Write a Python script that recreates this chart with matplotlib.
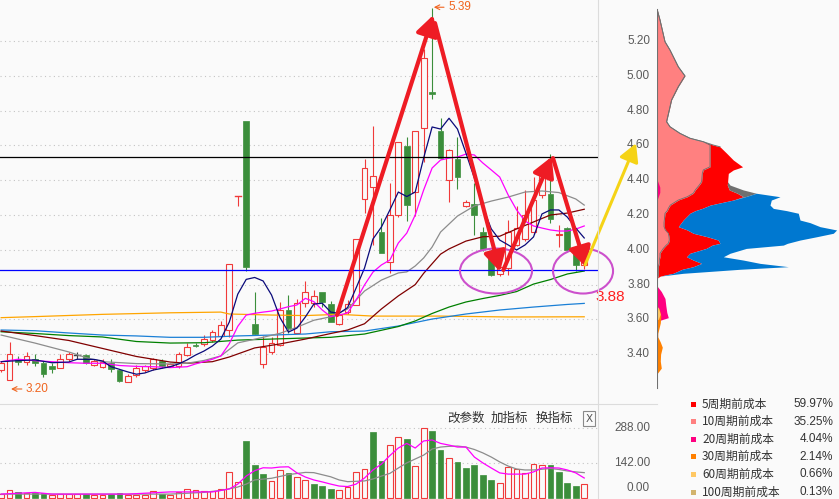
import matplotlib
matplotlib.use("Agg")
import numpy as np
import matplotlib.pyplot as plt
from matplotlib.patches import Rectangle, Ellipse
from matplotlib.lines import Line2D
from matplotlib.transforms import blended_transform_factory

# ---------------- data ----------------
opens  = [3.31, 3.25, 3.37, 3.355, 3.37, 3.35, 3.33, 3.32, 3.37, 3.395,
          3.395, 3.34, 3.325, 3.35, 3.31, 3.24, 3.28, 3.31, 3.32, 3.36,
          3.335, 3.33, 3.395, 3.455, 3.46, 3.48, 3.505, 3.54, 4.31, 4.74,
          3.574, 3.342, 3.41, 3.453, 3.654, 3.52, 3.693, 3.696, 3.76, 3.69,
          3.574, 3.64, 3.683, 4.29, 4.36, 4.104, 3.932, 4.20, 4.597, 4.334,
          4.698, 4.905, 4.685, 4.40, 4.52, 4.252, 4.263, 4.104, 3.995, 3.86,
          3.894, 4.028, 4.06, 4.104, 4.315, 4.321, 4.085, 4.124, 3.995, 3.913]
highs  = [3.36, 3.47, 3.39, 3.41, 3.40, 3.36, 3.35, 3.40, 3.415, 3.41,
          3.40, 3.37, 3.37, 3.37, 3.315, 3.285, 3.34, 3.34, 3.38, 3.375,
          3.35, 3.415, 3.465, 3.465, 3.51, 3.54, 3.59, 3.92, 4.31, 4.74,
          3.755, 3.505, 3.50, 3.70, 3.74, 3.72, 3.82, 3.77, 3.76, 3.705,
          3.63, 3.71, 4.06, 4.52, 4.71, 4.18, 4.386, 4.62, 4.647, 4.684,
          5.152, 5.39, 4.76, 4.58, 4.65, 4.285, 4.386, 4.13, 4.00, 3.92,
          4.17, 4.252, 4.344, 4.42, 4.487, 4.55, 4.14, 4.13, 4.00, 4.03]
lows   = [3.30, 3.25, 3.34, 3.34, 3.33, 3.27, 3.29, 3.32, 3.36, 3.37,
          3.345, 3.335, 3.32, 3.295, 3.24, 3.238, 3.27, 3.30, 3.31, 3.32,
          3.33, 3.32, 3.39, 3.44, 3.45, 3.47, 3.50, 3.50, 4.25, 3.88,
          3.51, 3.32, 3.40, 3.45, 3.52, 3.52, 3.67, 3.67, 3.67, 3.585,
          3.565, 3.63, 3.68, 4.21, 4.03, 3.98, 3.865, 4.19, 4.167, 4.194,
          4.506, 4.865, 4.52, 4.277, 4.348, 4.245, 4.085, 3.995, 3.85, 3.85,
          3.855, 4.02, 4.05, 4.09, 4.30, 4.156, 4.018, 3.99, 3.88, 3.89]
closes = [3.35, 3.40, 3.355, 3.39, 3.35, 3.285, 3.315, 3.37, 3.40, 3.395,
          3.35, 3.36, 3.357, 3.313, 3.245, 3.275, 3.32, 3.33, 3.37, 3.33,
          3.345, 3.40, 3.443, 3.448, 3.49, 3.525, 3.57, 3.92, 4.31, 3.90,
          3.516, 3.44, 3.463, 3.654, 3.549, 3.693, 3.76, 3.735, 3.70, 3.587,
          3.625, 3.69, 4.06, 4.468, 4.424, 3.983, 4.20, 4.62, 4.257, 4.684,
          5.10, 4.895, 4.526, 4.574, 4.417, 4.277, 4.20, 4.003, 3.855, 3.90,
          4.10, 4.124, 4.20, 4.286, 4.424, 4.175, 4.09, 4.00, 3.913, 4.028]
neutral_doji = [9]

volumes = [16, 33, 25, 19, 19, 20, 11, 16, 16, 15,
           16, 12, 12, 15, 20, 11, 14, 12, 30, 15,
           12, 25, 37, 32, 30, 29, 35, 105, 66, 234,
           135, 98, 70, 115, 101, 85, 74, 57, 49, 37,
           32, 45, 105, 118, 271, 152, 217, 249, 242, 131,
           286, 275, 197, 163, 148, 124, 135, 94, 74, 60,
           126, 118, 101, 138, 135, 135, 108, 63, 49, 57]
vol_colors = "rrgrggrrrrgrrggrrrrgrrrrrrrrrgggrrgrrgggrrrrggrrgrrggrgggggrrrrrrggggr"

# moving averages (candle index -> price)
ma5_x = [0, 2, 4, 6, 8, 9, 11, 12, 13, 15, 16, 17, 18, 20, 21, 22, 23, 24, 25, 26, 27, 28, 29,
         30, 31, 32, 33, 34, 35, 36, 37, 38, 39, 40, 41, 42, 43, 44, 45, 46, 47, 48, 49, 50,
         51, 52, 53, 54, 55, 56, 57, 58, 59, 60, 61, 62, 63, 64, 65, 66, 67, 68, 69]
ma5_y = [3.357, 3.363, 3.367, 3.351, 3.355, 3.371, 3.37, 3.361, 3.328, 3.298, 3.285, 3.292, 3.309,
         3.328, 3.344, 3.367, 3.395, 3.418, 3.447, 3.487, 3.585, 3.745, 3.83,
         3.841, 3.821, 3.74, 3.61, 3.527, 3.55, 3.614, 3.688, 3.693, 3.642, 3.635, 3.668, 3.78,
         3.895, 4.062, 4.131, 4.229, 4.332, 4.306, 4.332, 4.528,
         4.706, 4.694, 4.756, 4.694, 4.556, 4.413, 4.246, 4.12, 4.056, 4.028, 3.999, 4.028,
         4.074, 4.206, 4.229, 4.229, 4.188, 4.125, 4.068]
ma10_x = [0, 2, 4, 6, 8, 10, 12, 14, 16, 18, 20, 22, 23, 25, 26, 27, 28, 29, 30, 31, 32, 33, 34,
          35, 36, 37, 38, 39, 40, 41, 42, 43, 44, 45, 46, 47, 48, 49, 50, 51, 52, 53, 54, 55,
          56, 57, 58, 59, 60, 61, 62, 63, 64, 65, 66, 67, 68, 69]
ma10_y = [3.357, 3.371, 3.363, 3.357, 3.351, 3.348, 3.348, 3.335, 3.330, 3.328, 3.323, 3.328,
          3.344, 3.371, 3.39, 3.46, 3.56, 3.625, 3.635, 3.642, 3.648, 3.66, 3.673,
          3.683, 3.721, 3.702, 3.654, 3.616, 3.625, 3.637, 3.711, 3.798, 3.872, 3.913, 3.941,
          4.039, 4.096, 4.2, 4.344, 4.47, 4.516, 4.527, 4.533, 4.55,
          4.545, 4.499, 4.459, 4.418, 4.315, 4.229, 4.165, 4.137, 4.125, 4.114, 4.108, 4.108,
          4.119, 4.137]
ma20_x = [0, 4, 8, 10, 12, 16, 20, 22, 24, 26, 28, 30, 33, 35, 37, 39, 41, 43, 45, 47, 48, 49,
          50, 51, 52, 54, 56, 58, 60, 62, 64, 66, 68, 69]
ma20_y = [3.510, 3.464, 3.413, 3.381, 3.357, 3.346, 3.344, 3.348, 3.364, 3.39, 3.465, 3.486,
          3.52, 3.555, 3.595, 3.615, 3.66, 3.763, 3.826, 3.867, 3.873, 3.907,
          3.953, 4.016, 4.102, 4.194, 4.252, 4.28, 4.303, 4.332, 4.338, 4.329, 4.292, 4.257]
ma30_x = [0, 4, 8, 12, 16, 20, 22, 25, 27, 30, 33, 36, 39, 41, 43, 45, 47, 49, 50, 51, 52, 53,
          55, 57, 59, 61, 63, 65, 67, 69]
ma30_y = [3.533, 3.507, 3.479, 3.433, 3.387, 3.355, 3.348, 3.357, 3.384, 3.436, 3.459, 3.487,
          3.519, 3.539, 3.575, 3.66, 3.735, 3.80, 3.865, 3.92, 3.975, 4.005,
          4.05, 4.075, 4.078, 4.12, 4.16, 4.2, 4.211, 4.233]
ma60_x = [0, 4, 8, 12, 16, 20, 24, 28, 32, 36, 39, 43, 47, 49, 51, 53, 55, 57, 59, 61, 63, 65, 67, 69]
ma60_y = [3.529, 3.519, 3.507, 3.499, 3.473, 3.464, 3.466, 3.481, 3.487, 3.493, 3.497, 3.516,
          3.559, 3.591, 3.634, 3.671, 3.70, 3.72, 3.738, 3.76, 3.803, 3.829, 3.861, 3.878]
ma120_x = [0, 4, 8, 12, 16, 20, 24, 28, 32, 36, 39, 43, 47, 51, 55, 59, 63, 67, 69]
ma120_y = [3.539, 3.535, 3.522, 3.51, 3.505, 3.497, 3.497, 3.505, 3.51, 3.516, 3.529, 3.533,
           3.562, 3.602, 3.631, 3.654, 3.671, 3.686, 3.692]
ma250_x = [0, 4, 12, 20, 26, 27, 32, 36, 40, 44, 52, 60, 69]
ma250_y = [3.610, 3.616, 3.629, 3.638, 3.642, 3.631, 3.625, 3.622, 3.629, 3.619, 3.619, 3.614, 3.615]

# volume moving averages
vma5_x = [0, 4, 6, 10, 15, 20, 25, 27, 28, 29, 30, 31, 32, 33, 34, 35, 36, 37, 38, 39, 40, 41,
          42, 43, 44, 45, 46, 47, 48, 49, 50, 51, 52, 53, 54, 55, 56, 57, 58, 59, 60, 61, 62,
          63, 64, 65, 66, 67, 68, 69]
vma5_y = [16, 23, 16, 16, 16, 25, 25, 37, 57, 90, 112, 124, 123, 127, 128, 103, 86, 74, 66, 57,
          49, 47, 57, 82, 115, 139, 174, 205, 224, 205, 234, 238, 224, 217, 209, 209, 168, 144,
          123, 103, 98, 98, 98, 107, 123, 124, 123, 115, 103, 82]
vma10_x = [0, 10, 20, 24, 26, 28, 29, 30, 32, 34, 36, 37, 39, 40, 41, 43, 44, 45, 46, 47, 48,
           49, 50, 51, 52, 53, 54, 55, 56, 57, 58, 59, 60, 61, 62, 63, 64, 65, 66, 67, 68, 69]
vma10_y = [16, 16, 16, 23, 31, 45, 57, 74, 81, 96, 105, 104, 87, 74, 67, 70, 78, 90, 101, 123,
           144, 160, 176, 201, 209, 212, 213, 209, 199, 185, 168, 148, 131, 119, 115, 115, 118,
           121, 117, 111, 107, 104]

price_ticks = [5.20, 5.00, 4.80, 4.60, 4.40, 4.20, 4.00, 3.80, 3.60, 3.40]
vol_ticks = [288, 142]
resistance_level = 4.533
support_level = 3.884

# chip (cost) distribution: price rows and layer widths
dist_price = [5.378, 5.321, 5.196, 5.148, 5.052, 4.999, 4.937, 4.861, 4.803, 4.736,
              4.707, 4.669, 4.641, 4.621, 4.602, 4.592, 4.555, 4.516, 4.477, 4.459,
              4.439, 4.391, 4.372, 4.344, 4.325, 4.305, 4.286, 4.257, 4.238, 4.225,
              4.210, 4.171, 4.156, 4.133, 4.114, 4.095, 4.075, 4.056, 4.037, 4.027,
              4.008, 3.980, 3.960, 3.941, 3.922, 3.903, 3.888, 3.865, 3.849, 3.838]
dist_w10 = [0, 2.7, 7.7, 12.7, 21, 27.7, 21, 14.3, 12, 9.3,
            12.7, 22.7, 32.7, 46, 52.7, 52.7, 52.7, 52.7, 52.7, 46,
            45, 44.3, 42, 38, 36, 30, 21, 13, 11, 10,
            7.7, 7, 6.7, 6.7, 8, 11, 11.7, 12, 11, 9,
            6, 2.7, 2.7, 2, 2, 1, 1, 1, 1, 0]
dist_w5 = [0, 0, 0, 0, 0, 0, 0, 0, 0, 0,
           0, 0, 0, 0, 3.3, 10, 16.6, 23.3, 32.6, 30,
           26, 26, 28, 34, 44, 56, 55, 40, 34, 28,
           25, 19, 17.3, 14.3, 22, 25, 38.3, 49, 51.7, 46,
           43, 30, 26.6, 34, 42.3, 35, 24, 15, 2, 0]
dist_wgray = [0] * 22 + [2.7, 14, 19, 2] + [0] * 24
dist_wnew = [0] * 25 + [34.7, 38, 59.7, 71, 91.3,
                        108.3, 116.7, 128.7, 141.7, 149.3, 140, 109.3, 81.7, 67.3, 71,
                        40, 40, 36.7, 50, 58.4, 95, 57.7, 10, 0, 0]
dist20_price = [4.40, 4.36, 4.33, 4.29]
dist20_w = [0, 2.5, 2.5, 0]
dist20b_price = [3.79, 3.76, 3.72, 3.68, 3.64, 3.61, 3.59]
dist20b_w = [0, 4, 7.7, 8.5, 9.5, 11, 0]
dist60_price = [3.67, 3.63, 3.60]
dist60_w = [1, 3, 1]
dist30_price = [3.66, 3.62, 3.58, 3.52, 3.50, 3.47, 3.44, 3.40, 3.36, 3.32, 3.29]
dist30_w = [2, 3.5, 3, 0.5, 0.5, 3, 5, 3.3, 3, 4, 0]

legend_labels = ["5周期前成本", "10周期前成本", "20周期前成本", "30周期前成本", "60周期前成本", "100周期前成本"]
legend_pcts = ["59.97%", "35.25%", "4.04%", "2.14%", "0.66%", "0.13%"]
legend_colors = ["#ff0000", "#ff8080", "#ff0080", "#ff8000", "#ffc864", "#d2b46e"]

# ---------------- figure ----------------
W, H = 839, 499
BG = "#fafafa"
RED = "#f03a3a"
GREEN = "#3b8e3b"
fig = plt.figure(figsize=(W / 100, H / 100), dpi=100)
fig.patch.set_facecolor(BG)


def fy(py):
    return 1 - py / H


XLIM = (-0.136, 70.63)
YLIM = (3.1138, 5.4356)

ax = fig.add_axes([0, fy(404), 598 / W, 404 / H])
ax.set_xlim(*XLIM)
ax.set_ylim(*YLIM)
ax.axis("off")

axv = fig.add_axes([0, 0, 598 / W, 95 / H])
axv.set_xlim(*XLIM)
axv.set_ylim(-4.1, 385.6)
axv.axis("off")

axd = fig.add_axes([657.3 / W, fy(404), (W - 657.3) / W, 404 / H])
axd.set_xlim(0, W - 657.3)
axd.set_ylim(*YLIM)
axd.axis("off")

# separators
fig.add_artist(Line2D([598 / W, 598 / W], [0, 1], color="#dcdcdc", lw=0.8))
fig.add_artist(Line2D([0, 657 / W], [fy(404), fy(404)], color="#dcdcdc", lw=0.8))

# grid
for p in price_ticks:
    ax.axhline(p, color="#c4c4c4", lw=0.8, ls=(0, (1, 3)), zorder=0)
for v in vol_ticks:
    axv.axhline(v, color="#c4c4c4", lw=0.8, ls=(0, (1, 3)), zorder=0)

# price tick labels
trans = blended_transform_factory(fig.transFigure, ax.transData)
for p in price_ticks:
    ax.text(650 / W, p, f"{p:.2f}", transform=trans, ha="right", va="center",
            fontsize=8.5, color="#5a5a5a", family=["Liberation Sans"])
transv = blended_transform_factory(fig.transFigure, axv.transData)
for v in vol_ticks:
    axv.text(650 / W, v, f"{v:.2f}", transform=transv, ha="right", va="center",
             fontsize=8.5, color="#5a5a5a", family=["Liberation Sans"])
axv.annotate("0.00", xy=(650 / W, 0), xycoords=transv, xytext=(0, 3), textcoords="offset points",
             ha="right", va="bottom", fontsize=8.5, color="#5a5a5a", family=["Liberation Sans"])

# candles
BW = 0.68
for i, (o, h, l, c) in enumerate(zip(opens, highs, lows, closes)):
    if i in neutral_doji:
        col = "#404040"
    elif c >= o:
        col = RED
    else:
        col = GREEN
    lo, hi = min(o, c), max(o, c)
    ax.plot([i, i], [l, lo], color=col, lw=0.8, zorder=2, solid_capstyle="butt")
    ax.plot([i, i], [hi, h], color=col, lw=0.8, zorder=2, solid_capstyle="butt")
    if hi - lo < 0.004:
        ax.plot([i - BW / 2, i + BW / 2], [c, c], color=col, lw=1.0, zorder=3)
    elif c > o:
        ax.add_patch(Rectangle((i - BW / 2, lo), BW, hi - lo, facecolor=BG, edgecolor=col,
                               lw=0.8, zorder=3))
    else:
        ax.add_patch(Rectangle((i - BW / 2, lo), BW, hi - lo, facecolor=col, edgecolor=col,
                               lw=0.5, zorder=3))

# moving averages
ax.plot(ma250_x, ma250_y, color="#ffa500", lw=0.9, zorder=4)
ax.plot(ma120_x, ma120_y, color="#1a7fd6", lw=0.9, zorder=4)
ax.plot(ma60_x, ma60_y, color="#008000", lw=0.9, zorder=4)
ax.plot(ma30_x, ma30_y, color="#800000", lw=0.9, zorder=4)
ax.plot(ma20_x, ma20_y, color="#8c8c8c", lw=0.9, zorder=4)
ax.plot(ma10_x, ma10_y, color="#ff00ff", lw=0.9, zorder=4)
ax.plot(ma5_x, ma5_y, color="#0a0a7a", lw=0.9, zorder=4)

# horizontal levels
ax.axhline(resistance_level, color="#000000", lw=0.9, zorder=5)
ax.axhline(support_level, color="#0000ff", lw=0.9, zorder=5)

# high / low markers
MARK = "#f0641e"
ax.annotate("5.39", xy=(51.2, 5.394), xytext=(52.9, 5.394), va="center", ha="left",
            color=MARK, fontsize=8.5, family=["Liberation Sans"],
            arrowprops=dict(arrowstyle="->", color=MARK, lw=0.8, shrinkA=1, shrinkB=0),
            annotation_clip=False)
ax.annotate("3.20", xy=(1.17, 3.20), xytext=(2.94, 3.20), va="center", ha="left",
            color=MARK, fontsize=8.5, family=["Liberation Sans"],
            arrowprops=dict(arrowstyle="->", color=MARK, lw=0.8, shrinkA=1, shrinkB=0),
            annotation_clip=False)

# hand-drawn arrows
ARROW_RED = "#ee1c24"


def draw_arrow(x0, y0, x1, y1, color, lw, ms):
    ax.annotate("", xy=(x1, y1), xytext=(x0, y0),
                arrowprops=dict(arrowstyle="-|>,head_length=0.6,head_width=0.33", color=color,
                                lw=lw, mutation_scale=ms, shrinkA=0, shrinkB=0),
                annotation_clip=False, zorder=8)


draw_arrow(39.75, 3.625, 51.14, 5.349, ARROW_RED, 3, 20)
draw_arrow(51.34, 5.303, 59.04, 3.874, ARROW_RED, 3, 20)
draw_arrow(59.43, 3.884, 65.15, 4.535, ARROW_RED, 3, 20)
draw_arrow(65.3, 4.527, 69.2, 3.901, ARROW_RED, 3, 20)
draw_arrow(69.1, 3.913, 75.13, 4.612, "#f5d316", 2.2, 18)

# ellipses
for cx, w in [(58.56, 8.52), (68.86, 7.1)]:
    ax.add_patch(Ellipse((cx, 3.878), w, 0.2586, fill=False, edgecolor="#cc50cc", lw=1.5,
                         zorder=7, clip_on=False))

ax.text(70.28, 3.729, "3.88", color="#ff2020", fontsize=11, ha="left", va="center",
        family=["Liberation Sans"], clip_on=False, zorder=9)

# volume bars
for i, (v, cc) in enumerate(zip(volumes, vol_colors)):
    if cc == "r":
        axv.add_patch(Rectangle((i - BW / 2, 0), BW, v, facecolor=BG, edgecolor=RED, lw=0.8))
    else:
        axv.add_patch(Rectangle((i - BW / 2, 0), BW, v, facecolor=GREEN, edgecolor=GREEN, lw=0.5))
axv.plot(vma10_x, vma10_y, color="#8c8c8c", lw=0.9, zorder=4)
axv.plot(vma5_x, vma5_y, color="#ff00ff", lw=0.9, zorder=5)

# toolbar text
CJK = ["Noto Sans CJK SC", "DejaVu Sans"]
for x0, t in [(447, "改参数"), (491, "加指标"), (536, "换指标")]:
    fig.text(x0 / W, fy(418), t, fontsize=9, color="#333333", va="center", ha="left", family=CJK)
fig.add_artist(Rectangle((583 / W, fy(426)), 12 / W, 15 / H, transform=fig.transFigure,
                         facecolor="none", edgecolor="#8a8a8a", lw=0.8))
fig.text(589 / W, fy(418.5), "X", fontsize=7.5, color="#555555", ha="center", va="center",
         family=["DejaVu Sans"])

# chip distribution
dp = np.array(dist_price)
c1 = np.array(dist_w10)
c2 = c1 + np.array(dist_w5)
c3 = c2 + np.array(dist_wgray)
c4 = c3 + np.array(dist_wnew)
axd.fill_betweenx(dp, 0, c1, color="#ff8080", lw=0)
axd.fill_betweenx(dp, c1, c2, color="#ff0000", lw=0)
axd.fill_betweenx(dp, c2, c3, color="#707070", lw=0)
axd.fill_betweenx(dp, c3, c4, color="#0078d0", lw=0)
axd.plot(c1, dp, color="#707070", lw=0.6)
axd.plot(c4[:16], dp[:16], color="#707070", lw=0.7)
axd.fill_betweenx(dist20_price, 0, dist20_w, color="#ff0080", lw=0)
axd.fill_betweenx(dist20b_price, 0, dist20b_w, color="#ff0080", lw=0)
axd.fill_betweenx(dist30_price, 0, dist30_w, color="#ff8000", lw=0)
axd.fill_betweenx(dist60_price, 0, dist60_w, color="#ffc864", lw=0)
axd.plot([0, 0], [3.205, 5.38], color="#707070", lw=1.5)

# legend
for k, (lab, pct, col) in enumerate(zip(legend_labels, legend_pcts, legend_colors)):
    yy = fy(404 + 17.6 * k)
    fig.add_artist(Rectangle((691 / W, yy - 2.5 / H), 5 / W, 5 / H, transform=fig.transFigure,
                             facecolor=col, edgecolor="none"))
    fig.text(702 / W, yy, lab, fontsize=8.5, color="#333333", va="center", ha="left", family=CJK)
    fig.text(833 / W, yy, pct, fontsize=8.5, color="#333333", va="center", ha="right",
             family=["Liberation Sans"])

fig.savefig("out.png", dpi=100, facecolor=BG)
